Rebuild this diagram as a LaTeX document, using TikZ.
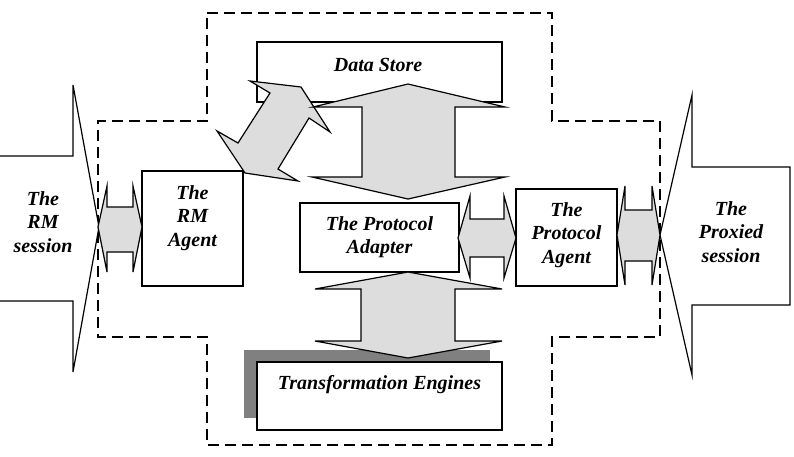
\documentclass[tikz,border=0pt]{standalone}
\usepackage{fontspec}
\setmainfont{Liberation Serif}
\definecolor{arrowgray}{HTML}{DDDDDD}
\definecolor{shadowgray}{HTML}{808080}
\begin{document}
\begin{tikzpicture}[x=1pt,y=-1pt,
  line width=1.2pt, line join=miter,
  box/.style={draw=black, fill=white, line width=1.2pt, inner sep=0pt},
  lbl/.style={font=\fontsize{20}{23.3}\selectfont\bfseries\itshape, align=center, inner sep=0pt},
  blockarrow/.style={draw=black, fill=arrowgray, line width=1.2pt, line join=miter},
  session/.style={draw=black, fill=white, line width=1.2pt},
  boundary/.style={draw=black, dash pattern=on 11pt off 6pt, line width=1.2pt}]

\useasboundingbox (0,0) rectangle (794,456);

% dashed boundary
\draw[boundary] (207,13) -- (552,13) -- (552,121) -- (660,121) -- (660,337) -- (552,337)
  -- (552,445) -- (207,445) -- (207,337) -- (98,337) -- (98,121) -- (207,121) -- cycle;

% session arrows
\fill[white] (0,156) -- (73,156) -- (73,85) -- (99,227) -- (73,372) -- (73,301) -- (0,301) -- cycle;
\draw (0,156) -- (73,156) -- (73,85) -- (99,227) -- (73,372) -- (73,301) -- (0,301);
\draw[session] (790,167) -- (692,167) -- (692,95) -- (660,235) -- (692,375) -- (692,305) -- (790,305) -- cycle;

% boxes
\node[box, minimum width=245pt, minimum height=60pt] (ds) at (379.5,72) {};
\node[box, minimum width=101pt, minimum height=115pt] (rma) at (192.5,228.5) {};

% diagonal double arrow
\draw[blockarrow] (250,81) -- (301,87) -- (330,132) -- (309,118) -- (278,169) -- (298,181)
  -- (245,173) -- (217,131) -- (238,143) -- (270,93) -- cycle;

% vertical double arrow data store <-> adapter
\draw[blockarrow] (408,84) -- (505,107) -- (455,107) -- (455,177) -- (505,177) -- (408,199)
  -- (312,177) -- (362,177) -- (362,107) -- (313,107) -- cycle;

\node[box, minimum width=159pt, minimum height=69pt] (pad) at (379.5,237.5) {};
\node[box, minimum width=101pt, minimum height=97pt] (pag) at (566.5,237.5) {};

% transformation engines with shadow
\fill[shadowgray] (244,350) rectangle (490,418);
\node[box, minimum width=245pt, minimum height=68pt] (te) at (379.5,396) {};

% vertical double arrow adapter <-> engines
\draw[blockarrow] (408,272) -- (502,289) -- (455,289) -- (455,341) -- (502,341) -- (408,358)
  -- (315,341) -- (361,341) -- (361,289) -- (315,289) -- cycle;

% small horizontal double arrows
\draw[blockarrow] (98,227) -- (107,186) -- (107,207) -- (133,207) -- (133,186) -- (142,227)
  -- (133,272) -- (133,252) -- (107,252) -- (107,272) -- cycle;
\draw[blockarrow] (458,238) -- (470,196) -- (470,219) -- (504,219) -- (504,196) -- (516,238)
  -- (504,278) -- (504,257) -- (470,257) -- (470,278) -- cycle;
\draw[blockarrow] (617,235) -- (625,186) -- (625,210) -- (652,210) -- (652,186) -- (660,235)
  -- (652,285) -- (652,261) -- (625,261) -- (625,285) -- cycle;

% labels
\node[lbl] (rmsl) at (43,222) {The\\RM\\session};
\node[lbl] (rmal) at (192.5,218) {The\\RM\\Agent};
\node[lbl] (dsl) at (378,65) {Data Store};
\node[lbl] (padl) at (379.5,237.5) {The Protocol\\Adapter};
\node[lbl] (pagl) at (566.5,235) {The\\Protocol\\Agent};
\node[lbl] (pxl) at (731,232) {The\\Proxied\\session};
\node[lbl] (tel) at (379.5,385) {Transformation Engines};
\end{tikzpicture}
\end{document}
